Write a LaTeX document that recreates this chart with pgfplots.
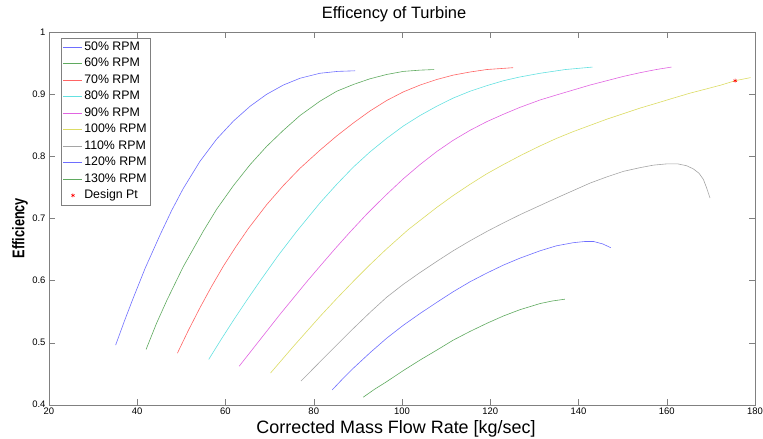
\documentclass[border=0pt]{standalone}
\usepackage{pgfplots}
\pgfplotsset{compat=1.18}
\usepackage{fontspec}
\setmainfont{Liberation Sans}
\definecolor{cA}{RGB}{110,110,255}
\definecolor{cB}{RGB}{95,170,95}
\definecolor{cC}{RGB}{255,100,100}
\definecolor{cD}{RGB}{100,225,225}
\definecolor{cE}{RGB}{225,100,225}
\definecolor{cF}{RGB}{220,220,100}
\definecolor{cG}{RGB}{165,165,165}
\begin{document}
\begin{tikzpicture}
\begin{axis}[
  name=ax,
  scale only axis,
  width=706bp, height=372.4bp,
  xmin=20, xmax=180, ymin=0.4, ymax=1,
  xtick={20,40,...,180},
  ytick={0.4,0.5,0.6,0.7,0.8,0.9,1},
  yticklabels={0.4,0.5,0.6,0.7,0.8,0.9,1},
  /pgf/number format/assume math mode=true,
  tick label style={font=\fontsize{9.5}{10}\selectfont},
  tick align=inside,
  major tick length=6bp,
  axis line style={draw=gray},
  tick style={draw=gray},
  title={Efficency of Turbine},
  title style={at={(axis description cs:0.5,1)}, anchor=base, yshift=8bp, xshift=-8bp, font=\fontsize{16.5}{18}\selectfont},
  xlabel={Corrected Mass Flow Rate [kg/sec]},
  xlabel style={at={(axis description cs:0.5,0)}, anchor=base, yshift=-29bp, xshift=-6bp, font=\fontsize{18}{20}\selectfont},
  ylabel={\scalebox{0.75}[1]{\bfseries Efficiency}},
  ylabel style={at={([xshift=-29bp]axis description cs:0,0.4745)}, anchor=center, font=\fontsize{17}{19}\selectfont},
  legend style={at={(axis description cs:0.017,0.986)}, anchor=north west,
    draw=gray, fill=white, inner xsep=2bp, inner ysep=1bp,
    font=\fontsize{12.4}{13}\selectfont, row sep=0pt,
    nodes={inner xsep=1.5bp, inner ysep=2bp, text height=9.5bp, text depth=3bp}},
  legend cell align=left,
  legend image code/.code={\draw[mark repeat=2,mark phase=2,#1] plot coordinates {(0bp,0bp) (9.5bp,0bp) (19bp,0bp)};},
  every axis plot/.append style={line width=0.6bp},
]
\addplot[cA, no markers] coordinates {(35.1,0.496) (37.1,0.535) (39.1,0.572) (41.8,0.620) (45.2,0.674) (47.8,0.713) (50.4,0.748) (54.2,0.792) (58.0,0.828) (61.8,0.857) (65.6,0.881) (69.3,0.900) (73.1,0.915) (76.9,0.926) (81.4,0.934) (85.4,0.937) (89.4,0.938)};
\addlegendentry{50\% RPM}
\addplot[cB, no markers] coordinates {(42.0,0.489) (44.3,0.530) (46.7,0.568) (50.4,0.622) (55.0,0.680) (58.0,0.715) (61.8,0.753) (65.6,0.787) (69.3,0.816) (73.1,0.842) (76.9,0.866) (81.4,0.889) (85.2,0.905) (89.0,0.916) (92.7,0.925) (96.5,0.932) (100.3,0.937) (104.0,0.939) (107.3,0.940)};
\addlegendentry{60\% RPM}
\addplot[cC, no markers] coordinates {(49.1,0.483) (51.6,0.520) (54.2,0.556) (56.8,0.590) (59.5,0.623) (62.3,0.654) (65.2,0.684) (69.3,0.722) (73.1,0.753) (76.9,0.781) (81.4,0.810) (85.2,0.833) (89.0,0.854) (92.7,0.873) (96.5,0.890) (100.3,0.904) (104.1,0.915) (107.9,0.924) (111.6,0.931) (115.4,0.936) (119.2,0.940) (125.2,0.943)};
\addlegendentry{70\% RPM}
\addplot[cD, no markers] coordinates {(56.2,0.473) (59.0,0.505) (61.8,0.536) (64.8,0.568) (67.8,0.599) (71.9,0.640) (76.1,0.679) (81.4,0.725) (85.2,0.755) (89.0,0.783) (92.7,0.807) (96.5,0.829) (100.3,0.849) (104.1,0.866) (107.9,0.881) (111.6,0.894) (115.4,0.905) (119.2,0.914) (123.0,0.922) (126.7,0.928) (131.3,0.934) (137.0,0.940) (143.2,0.944)};
\addlegendentry{80\% RPM}
\addplot[cE, no markers] coordinates {(63.1,0.462) (66.2,0.490) (69.3,0.518) (72.4,0.546) (75.4,0.572) (78.4,0.598) (81.4,0.623) (84.8,0.651) (88.2,0.678) (92.0,0.707) (96.1,0.736) (100.3,0.764) (104.1,0.787) (107.9,0.808) (111.6,0.826) (115.4,0.842) (119.2,0.856) (123.0,0.868) (126.7,0.879) (131.3,0.891) (135.0,0.899) (138.8,0.907) (142.6,0.915) (146.4,0.922) (150.2,0.929) (154.0,0.935) (157.6,0.940) (161.1,0.944)};
\addlegendentry{90\% RPM}
\addplot[cF, no markers] coordinates {(70.2,0.451) (75.4,0.494) (81.4,0.542) (85.2,0.571) (89.0,0.599) (92.8,0.626) (96.5,0.651) (101.4,0.682) (107.9,0.718) (111.6,0.737) (115.4,0.755) (119.2,0.772) (123.0,0.787) (127.0,0.802) (131.3,0.817) (135.0,0.829) (138.8,0.840) (142.6,0.850) (146.4,0.860) (150.2,0.869) (154.0,0.878) (157.8,0.886) (161.5,0.894) (165.3,0.902) (169.1,0.909) (172.3,0.915) (175.5,0.922) (179.0,0.927)};
\addlegendentry{100\% RPM}
\addplot[cG, no markers] coordinates {(77.1,0.438) (81.4,0.469) (85.2,0.496) (89.0,0.523) (92.8,0.549) (96.5,0.573) (100.3,0.594) (104.1,0.613) (107.9,0.631) (111.6,0.648) (115.4,0.664) (119.2,0.679) (123.0,0.693) (127.0,0.707) (131.3,0.721) (135.0,0.733) (138.8,0.745) (142.6,0.757) (146.4,0.767) (150.2,0.776) (154.0,0.782) (157.0,0.786) (160.0,0.788) (162.5,0.788) (164.5,0.785) (166.0,0.780) (167.3,0.773) (168.3,0.763) (169.0,0.750) (169.8,0.733)};
\addlegendentry{110\% RPM}
\addplot[cA, no markers] coordinates {(84.2,0.424) (86.6,0.442) (89.0,0.459) (92.8,0.484) (96.5,0.507) (100.3,0.528) (104.1,0.547) (107.9,0.565) (111.6,0.582) (115.4,0.598) (119.2,0.612) (123.0,0.625) (126.7,0.636) (131.3,0.648) (135.0,0.656) (138.8,0.661) (141.5,0.663) (143.4,0.663) (145.5,0.659) (147.3,0.653)};
\addlegendentry{120\% RPM}
\addplot[cB, no markers] coordinates {(91.2,0.412) (93.8,0.425) (96.5,0.437) (100.3,0.455) (104.1,0.472) (107.9,0.488) (111.6,0.504) (115.4,0.518) (119.2,0.531) (123.0,0.543) (126.7,0.553) (131.3,0.563) (134.0,0.567) (136.9,0.570)};
\addlegendentry{130\% RPM}
\addplot[red, only marks, mark=asterisk, mark size=2bp, line width=0.5bp] coordinates {(175.5,0.922)};
\addlegendentry{Design Pt}
\end{axis}
\pgfresetboundingbox
\path[use as bounding box] ([shift={(-49bp,-34.3bp)}]ax.south west) rectangle ([shift={(8bp,32.3bp)}]ax.north east);
\end{tikzpicture}
\end{document}
